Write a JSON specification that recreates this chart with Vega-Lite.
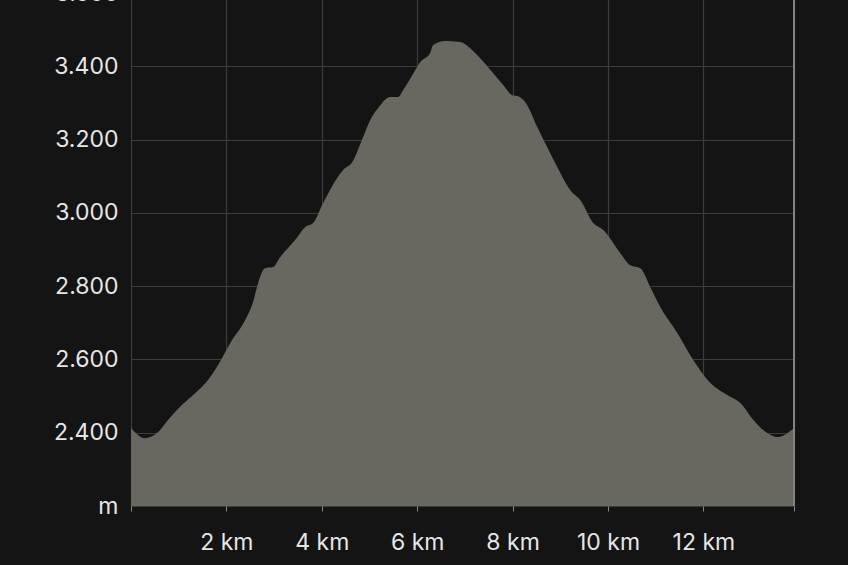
{
  "$schema": "https://vega.github.io/schema/vega-lite/v6.json",
  "autosize": {"type": "none"},
  "width": 663,
  "height": 513,
  "padding": {"left": 131, "top": -7, "right": 54, "bottom": 59},
  "background": "#141414",
  "config": {
    "view": {"stroke": null},
    "axis": {"labelFont": "Inter", "labelFontSize": 23, "labelColor": "#e6e6e6", "gridColor": "#3c3c3c", "gridWidth": 1.2, "domain": false, "labelFontWeight": "normal"}
  },
  "data": {"values": [
    {"km": 0, "ele": 2413},
    {"km": 0.294, "ele": 2385},
    {"km": 0.545, "ele": 2399},
    {"km": 0.776, "ele": 2435},
    {"km": 1.07, "ele": 2476},
    {"km": 1.343, "ele": 2508},
    {"km": 1.615, "ele": 2544},
    {"km": 1.825, "ele": 2585},
    {"km": 2.119, "ele": 2653},
    {"km": 2.391, "ele": 2707},
    {"km": 2.559, "ele": 2757},
    {"km": 2.664, "ele": 2808},
    {"km": 2.811, "ele": 2849},
    {"km": 2.979, "ele": 2852},
    {"km": 3.126, "ele": 2879},
    {"km": 3.44, "ele": 2926},
    {"km": 3.65, "ele": 2961},
    {"km": 3.818, "ele": 2972},
    {"km": 4.028, "ele": 3027},
    {"km": 4.447, "ele": 3117},
    {"km": 4.636, "ele": 3138},
    {"km": 4.867, "ele": 3207},
    {"km": 5.014, "ele": 3253},
    {"km": 5.182, "ele": 3286},
    {"km": 5.433, "ele": 3316},
    {"km": 5.601, "ele": 3316},
    {"km": 5.706, "ele": 3335},
    {"km": 5.958, "ele": 3389},
    {"km": 6.063, "ele": 3411},
    {"km": 6.272, "ele": 3436},
    {"km": 6.335, "ele": 3458},
    {"km": 6.587, "ele": 3469},
    {"km": 6.902, "ele": 3466},
    {"km": 7.112, "ele": 3449},
    {"km": 7.321, "ele": 3422},
    {"km": 7.594, "ele": 3381},
    {"km": 7.804, "ele": 3349},
    {"km": 7.993, "ele": 3321},
    {"km": 8.118, "ele": 3318},
    {"km": 8.307, "ele": 3294},
    {"km": 8.517, "ele": 3234},
    {"km": 8.727, "ele": 3179},
    {"km": 8.936, "ele": 3125},
    {"km": 9.209, "ele": 3062},
    {"km": 9.419, "ele": 3035},
    {"km": 9.692, "ele": 2972},
    {"km": 9.901, "ele": 2953},
    {"km": 10.258, "ele": 2890},
    {"km": 10.468, "ele": 2857},
    {"km": 10.678, "ele": 2849},
    {"km": 10.888, "ele": 2797},
    {"km": 11.097, "ele": 2743},
    {"km": 11.454, "ele": 2672},
    {"km": 11.79, "ele": 2598},
    {"km": 12.146, "ele": 2536},
    {"km": 12.503, "ele": 2503},
    {"km": 12.776, "ele": 2481},
    {"km": 13.048, "ele": 2435},
    {"km": 13.342, "ele": 2399},
    {"km": 13.552, "ele": 2388},
    {"km": 13.9, "ele": 2413}
  ]},
  "layer": [
    {
      "mark": {"type": "area", "color": "#686760", "interpolate": "monotone", "opacity": 1},
      "encoding": {
        "x": {"field": "km", "type": "quantitative", "scale": {"domain": [0, 13.9], "nice": false, "zero": false},
          "axis": {"title": null, "values": [0, 2, 4, 6, 8, 10, 12, 13.9], "labelExpr": "datum.value == 0 || datum.value > 13 ? '' : datum.value + ' km'", "tickColor": "#8a8a85", "tickSize": 5, "labelPadding": 20, "labelBaseline": "top"}},
        "y": {"field": "ele", "type": "quantitative", "scale": {"domain": [2200, 3600], "nice": false, "zero": false},
          "axis": {"title": null, "values": [2200, 2400, 2600, 2800, 3000, 3200, 3400, 3600], "ticks": false, "labelPadding": 13, "labelExpr": "datum.value == 2200 ? 'm' : replace(format(datum.value, ','), ',', '.')"}},
        "y2": {"datum": 2200}
      }
    },
    {
      "mark": {"type": "rule", "color": "#85847e", "strokeWidth": 1.2},
      "encoding": {"x": {"datum": 13.9}}
    }
  ]
}
